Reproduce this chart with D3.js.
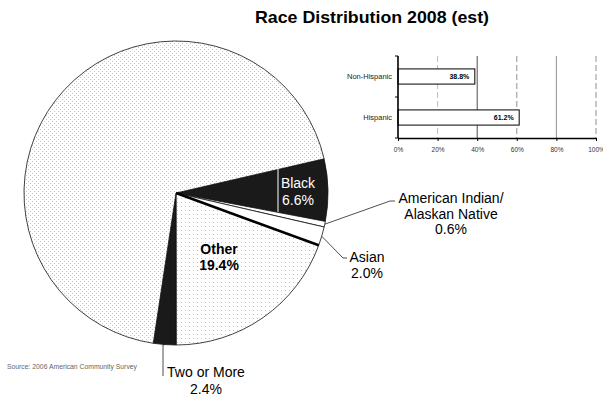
<!DOCTYPE html>
<html>
<head>
<meta charset="utf-8">
<script src="https://cdn.jsdelivr.net/npm/d3@7"></script>
<style>
  html, body { margin: 0; padding: 0; background: #fff; }
  svg { display: block; font-family: "Liberation Sans", Arial, sans-serif; }
</style>
</head>
<body>
<svg id="chart" width="603" height="396"></svg>
<script>
// Race shares (percent), clockwise from the Black slice
const raceNames  = ["Black", "American Indian/Alaskan Native", "Asian", "Other", "Two or More", "White"];
const raceValues = [6.6, 0.6, 2.0, 19.4, 2.4, 69.0];

// Ethnicity shares (fraction of population)
const ethnicNames  = ["Non-Hispanic", "Hispanic"];
const ethnicValues = [0.388, 0.612];
const ethnicTicks  = [0, 0.2, 0.4, 0.6, 0.8, 1.0];

const title  = "Race Distribution 2008 (est)";
const source = "Source: 2006 American Community Survey";

const svg = d3.select("#chart");

// stipple textures for the light slices
const defs = svg.append("defs");
function stipple(id, dots, color) {
  const p = defs.append("pattern").attr("id", id)
    .attr("width", 4).attr("height", 4).attr("patternUnits", "userSpaceOnUse");
  p.append("rect").attr("width", 4).attr("height", 4).attr("fill", "#fff");
  dots.forEach(([x, y]) => p.append("rect").attr("x", x).attr("y", y)
    .attr("width", 1).attr("height", 1).attr("fill", color));
}
stipple("dotsDense", [[0, 0], [2, 2]], "#c4c4c4");
stipple("dotsLight", [[1, 1]], "#c4c4c4");

const fills = {
  "Black": "#1a1a1a",
  "American Indian/Alaskan Native": "#ffffff",
  "Asian": "#ffffff",
  "Other": "url(#dotsLight)",
  "Two or More": "#1a1a1a",
  "White": "url(#dotsDense)"
};

// ---- pie ----
const cx = 176, cy = 193, R = 152;
const start = 77 * Math.PI / 180;
const pie = d3.pie().sort(null).value(d => d.v)
  .startAngle(start).endAngle(start + 2 * Math.PI);
const arcs = pie(raceNames.map((n, i) => ({ n, v: raceValues[i] })));
const arc = d3.arc().innerRadius(0).outerRadius(R);
const rim = d3.arc().innerRadius(R).outerRadius(R);

const g = svg.append("g").attr("transform", `translate(${cx},${cy})`);
g.selectAll("path.slice").data(arcs).join("path")
  .attr("class", "slice")
  .attr("d", arc)
  .attr("fill", d => fills[d.data.n])
  .attr("stroke", "#111")
  .attr("stroke-width", 0.8);

// heavy divider between Asian and Other
const otherArc = arcs.find(d => d.data.n === "Other");
g.append("line")
  .attr("x1", 0).attr("y1", 0)
  .attr("x2", R * Math.sin(otherArc.startAngle))
  .attr("y2", -R * Math.cos(otherArc.startAngle))
  .attr("stroke", "#000").attr("stroke-width", 2.6);

// white marker line inside the Black slice
g.append("line").attr("x1", 102).attr("y1", -25).attr("x2", 102).attr("y2", 19)
  .attr("stroke", "#fff").attr("stroke-width", 1);

const labelFont = 14;
function lines(x, y, texts, opts = {}) {
  const t = svg.append("text")
    .attr("x", x).attr("y", y)
    .attr("text-anchor", opts.anchor || "middle")
    .attr("font-size", labelFont)
    .attr("font-weight", opts.bold ? "bold" : "normal")
    .attr("fill", opts.fill || "#000");
  texts.forEach((s, i) => t.append("tspan").attr("x", x).attr("dy", i ? opts.lh || 16 : 0).text(s));
  return t;
}
const pct = v => v.toFixed(1) + "%";
const byName = n => arcs.find(d => d.data.n === n);

// Black (inside)
lines(298, 188, ["Black", pct(byName("Black").data.v)], { fill: "#fff", lh: 17 });
// Other (inside)
lines(219, 254, ["Other", pct(byName("Other").data.v)], { bold: true, lh: 16 });

// leader lines from slice rims
function leader(name, pts) {
  const c = rim.centroid(byName(name));
  const path = d3.line()([[cx + c[0], cy + c[1]], ...pts]);
  svg.append("path").attr("d", path).attr("fill", "none")
    .attr("stroke", "#222").attr("stroke-width", 0.8);
}
leader("American Indian/Alaskan Native", [[390, 201], [395, 201]]);
lines(451, 203, ["American Indian/", "Alaskan Native", pct(byName("American Indian/Alaskan Native").data.v)], { lh: 15.7 });

leader("Asian", [[343, 258], [347, 258]]);
lines(367, 262, ["Asian", pct(byName("Asian").data.v)], { lh: 16 });

leader("Two or More", [[163, 345], [163, 376]]);
lines(206, 377, ["Two or More", pct(byName("Two or More").data.v)], { lh: 16.5 });

// source note
svg.append("text").attr("x", 7).attr("y", 369)
  .attr("font-size", 6.8).attr("fill", "#666").text(source);

// title
svg.append("text").attr("x", 372).attr("y", 23)
  .attr("text-anchor", "middle").attr("font-size", 17).attr("font-weight", "bold")
  .attr("textLength", 234).attr("lengthAdjust", "spacingAndGlyphs")
  .text(title);

// ---- ethnicity bar chart ----
const x = d3.scaleLinear().domain([0, 1]).range([398, 596]);
const y = d3.scaleBand().domain(ethnicNames).range([56, 138])
  .paddingInner(0.63).paddingOuter(0.315);

const bc = svg.append("g");
// gridlines
bc.selectAll("line.grid").data(ethnicTicks.slice(1)).join("line")
  .attr("class", "grid")
  .attr("x1", d => x(d)).attr("x2", d => x(d))
  .attr("y1", 56).attr("y2", 138)
  .attr("stroke", (d, i) => i === 1 ? "#222" : (i === 0 ? "#aaa" : "#777"))
  .attr("stroke-width", 0.8)
  .attr("stroke-dasharray", (d, i) => (i === 0 || i === 2 || i === 4) ? "6,3" : null);

// bars
bc.selectAll("rect.bar").data(ethnicNames).join("rect")
  .attr("class", "bar")
  .attr("x", x(0)).attr("y", d => y(d))
  .attr("width", (d, i) => x(ethnicValues[i]) - x(0))
  .attr("height", y.bandwidth())
  .attr("fill", "#fff").attr("stroke", "#000").attr("stroke-width", 1);

// value labels
bc.selectAll("text.val").data(ethnicNames).join("text")
  .attr("class", "val")
  .attr("x", (d, i) => x(ethnicValues[i]) - 5.5)
  .attr("y", d => y(d) + y.bandwidth() / 2 + 2.5)
  .attr("text-anchor", "end").attr("font-size", 7).attr("font-weight", "bold")
  .text((d, i) => (ethnicValues[i] * 100).toFixed(1) + "%");

// category labels
bc.selectAll("text.cat").data(ethnicNames).join("text")
  .attr("class", "cat")
  .attr("x", 392)
  .attr("y", d => y(d) + y.bandwidth() / 2 + 2.5)
  .attr("text-anchor", "end").attr("font-size", 7.5).attr("fill", "#222")
  .text(d => d);

// value axis
const xAxis = bc.append("g").attr("transform", "translate(0,138)")
  .call(d3.axisBottom(x).tickValues(ethnicTicks).tickFormat(d3.format(".0%"))
    .tickSize(3).tickSizeOuter(0));
xAxis.select(".domain").attr("stroke", "#000").attr("stroke-width", 1.6);
xAxis.selectAll(".tick line").attr("stroke", "#000");
xAxis.selectAll(".tick text").attr("font-size", 6.5).attr("fill", "#333")
  .attr("dy", "0.71em").attr("y", 9)
  .attr("font-family", "'Liberation Sans', Arial, sans-serif");

// category axis with ticks at band boundaries
bc.append("line").attr("x1", 398).attr("x2", 398).attr("y1", 56).attr("y2", 138)
  .attr("stroke", "#000").attr("stroke-width", 1.6);
const bounds = [56, (y(ethnicNames[0]) + y.bandwidth() + y(ethnicNames[1])) / 2, 138];
bc.selectAll("line.ytick").data(bounds).join("line")
  .attr("class", "ytick")
  .attr("x1", 395).attr("x2", 398).attr("y1", d => d).attr("y2", d => d)
  .attr("stroke", "#000");
</script>
</body>
</html>
